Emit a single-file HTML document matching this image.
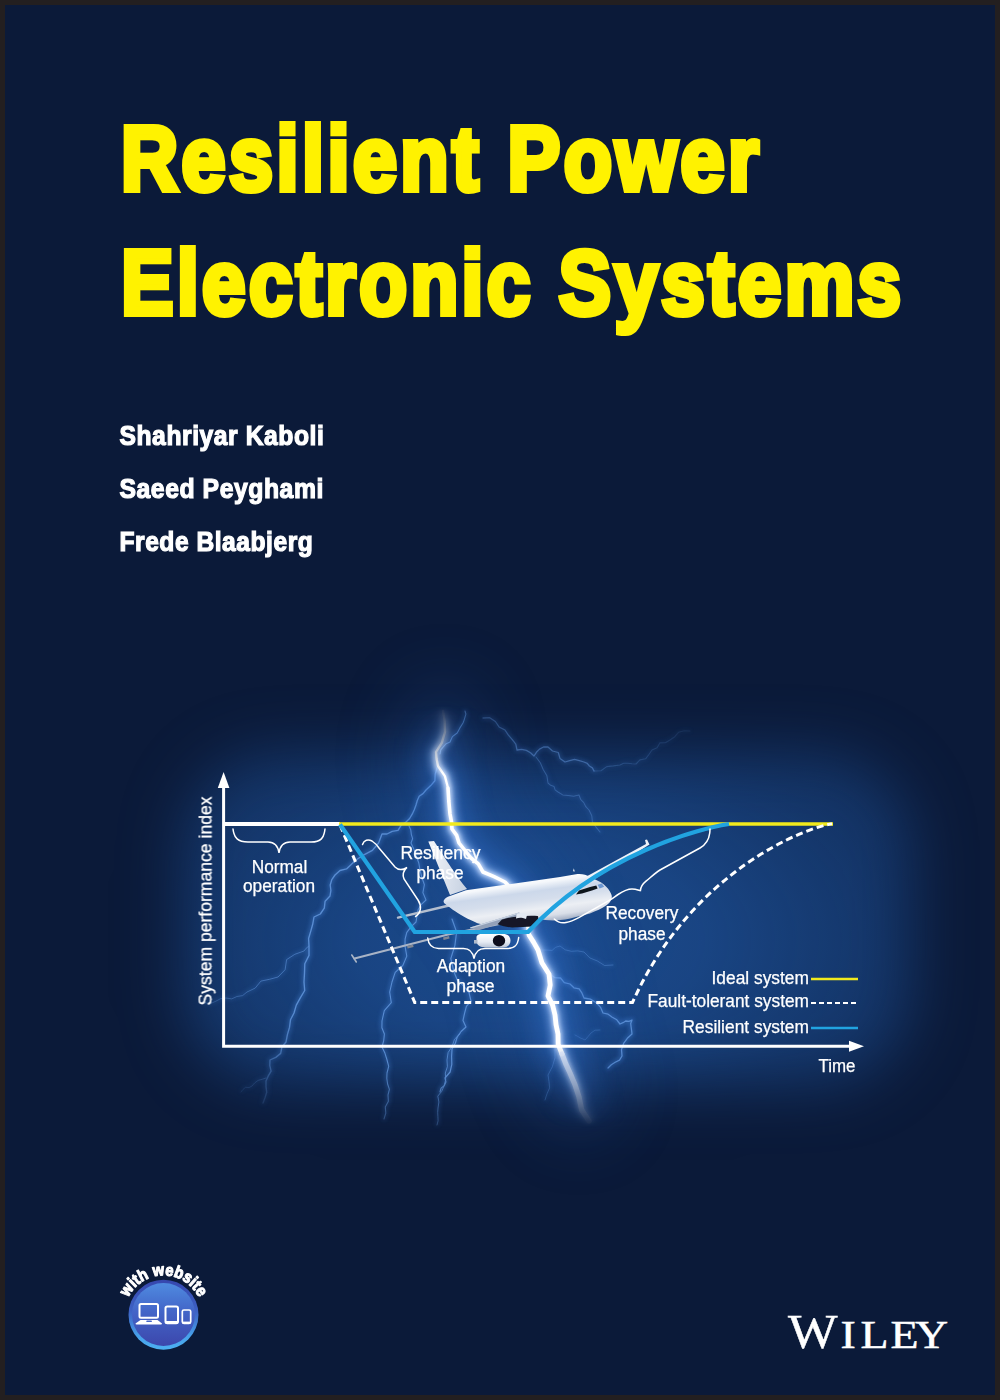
<!DOCTYPE html>
<html><head><meta charset="utf-8">
<title>Resilient Power Electronic Systems</title>
<style>
html,body{margin:0;padding:0;}
body{width:1000px;height:1400px;overflow:hidden;background:#231f20;position:relative;font-family:"Liberation Sans",sans-serif;}
#cover{position:absolute;left:5px;top:5px;width:990px;height:1390px;background:#0b1a39;}
svg{position:absolute;left:0;top:0;}
.t{font-family:"Liberation Sans",sans-serif;font-weight:bold;}
.l{font-family:"Liberation Sans",sans-serif;fill:#fff;font-size:17.5px;}
.s{font-family:"Liberation Serif",serif;fill:#fff;}
</style></head>
<body>
<div id="cover"></div>
<svg id="art" width="1000" height="1400" viewBox="0 0 1000 1400">
<defs>
<radialGradient id="glow" cx="0.5" cy="0.5" r="0.5">
<stop offset="0" stop-color="#2262b4" stop-opacity="1"/>
<stop offset="0.3" stop-color="#1f5aa8" stop-opacity="0.9"/>
<stop offset="0.6" stop-color="#1c4f97" stop-opacity="0.55"/>
<stop offset="0.85" stop-color="#1a488a" stop-opacity="0.15"/>
<stop offset="1" stop-color="#1a488a" stop-opacity="0"/>
</radialGradient>
<filter id="b2" x="-50%" y="-50%" width="200%" height="200%"><feGaussianBlur stdDeviation="2"/></filter>
<filter id="b4" x="-50%" y="-50%" width="200%" height="200%"><feGaussianBlur stdDeviation="4"/></filter>
<filter id="b8" x="-50%" y="-50%" width="200%" height="200%"><feGaussianBlur stdDeviation="9"/></filter>
<filter id="b1" x="-50%" y="-50%" width="200%" height="200%"><feGaussianBlur stdDeviation="0.7"/></filter>
<filter id="b50" x="-60%" y="-80%" width="220%" height="260%"><feGaussianBlur stdDeviation="75 52"/></filter>
<filter id="b03" x="-10%" y="-10%" width="120%" height="120%"><feGaussianBlur stdDeviation="0.35"/></filter>
<filter id="b05" x="-50%" y="-50%" width="200%" height="200%"><feGaussianBlur stdDeviation="0.55"/></filter>
<filter id="b14" x="-100%" y="-50%" width="300%" height="200%"><feGaussianBlur stdDeviation="14"/></filter>
<radialGradient id="glow2" gradientUnits="userSpaceOnUse" cx="0" cy="0" r="1" gradientTransform="translate(530,940) scale(480,275)">
<stop offset="0" stop-color="#1b4a8c" stop-opacity="1.0"/>
<stop offset="0.15" stop-color="#1b4a8c" stop-opacity="0.95"/>
<stop offset="0.35" stop-color="#1b4a8c" stop-opacity="0.9"/>
<stop offset="0.56" stop-color="#1b4a8c" stop-opacity="0.73"/>
<stop offset="0.67" stop-color="#1b4a8c" stop-opacity="0.64"/>
<stop offset="0.77" stop-color="#1b4a8c" stop-opacity="0.57"/>
<stop offset="1" stop-color="#1b4a8c" stop-opacity="0.45"/>
</radialGradient>
<filter id="b30" filterUnits="userSpaceOnUse" x="0" y="560" width="1000" height="720"><feGaussianBlur stdDeviation="30"/></filter>
<mask id="gm" maskUnits="userSpaceOnUse" x="0" y="560" width="1000" height="720"><rect x="180" y="750" width="735" height="338" rx="95" fill="#fff" filter="url(#b30)"/></mask>
<filter id="b35" filterUnits="userSpaceOnUse" x="200" y="560" width="640" height="720"><feGaussianBlur stdDeviation="34"/></filter>
</defs>
<!-- GLOW -->
<rect x="20" y="600" width="960" height="640" fill="url(#glow2)" mask="url(#gm)"/>
<!-- LIGHTNING -->
<defs>
<linearGradient id="bfade" gradientUnits="userSpaceOnUse" x1="0" y1="705" x2="0" y2="1128">
<stop offset="0" stop-color="#fff" stop-opacity="0"/><stop offset="0.07" stop-color="#fff" stop-opacity="0.45"/><stop offset="0.16" stop-color="#fff" stop-opacity="1"/><stop offset="0.8" stop-color="#fff" stop-opacity="1"/><stop offset="0.9" stop-color="#fff" stop-opacity="0.6"/><stop offset="1" stop-color="#fff" stop-opacity="0"/>
</linearGradient>
<mask id="bmask" maskUnits="userSpaceOnUse" x="0" y="600" width="1000" height="700"><rect x="0" y="600" width="1000" height="700" fill="url(#bfade)"/></mask>
<radialGradient id="bmaskr" gradientUnits="userSpaceOnUse" cx="500" cy="915" r="330" gradientTransform="translate(500,915) scale(1.25,0.8) translate(-500,-915)"><stop offset="0.62" stop-color="#fff" stop-opacity="1"/><stop offset="1" stop-color="#fff" stop-opacity="0"/></radialGradient>
<mask id="brmask" maskUnits="userSpaceOnUse" x="0" y="600" width="1000" height="700"><rect x="0" y="600" width="1000" height="700" fill="url(#bmaskr)"/></mask>
</defs>
<g fill="none" stroke-linecap="round" stroke-linejoin="round">
<g mask="url(#brmask)">
<g stroke="#4f8fe6" opacity="0.35" filter="url(#b2)">
<path d="M437.0,768.0 L435.2,774.2 L434.9,780.7 L430.7,785.6 L426.0,790.0 L423.0,793.6 L419.2,796.3 L417.3,800.5 L416.0,805.0 L414.3,809.7 L412.2,814.2 L409.6,818.5 L406.0,822.0 L401.1,825.3 L398.0,830.3 L392.2,831.4 L387.0,834.0 L382.0,834.0 L378.6,843.0 L372.4,850.4 L363.9,854.8 L356.0,860.0 L351.2,864.4 L346.5,868.9 L340.0,870.5 L335.0,875.0 L331.8,879.6 L330.2,885.0 L330.9,890.5 L330.0,896.0 L325.1,901.2 L324.3,908.2 L320.3,914.0 L314.0,917.0 L312.7,924.3 L310.7,931.4 L308.6,938.5 L309.0,946.0 L309.0,955.4 L304.8,963.8 L304.5,972.9 L304.0,982.0 L304.7,990.5 L300.3,997.9 L296.3,1005.1 L294.0,1013.0 L290.5,1019.8 L289.5,1027.4 L287.4,1034.6 L286.0,1042.0 L281.9,1047.0 L280.7,1053.4 L275.8,1057.4 L270.0,1060.0 L269.8,1065.6 L271.1,1071.1 L268.3,1075.9 L266.0,1081.0 L266.0,1086.7 L266.7,1092.3 L265.0,1097.7 L263.0,1103.0" stroke-width="4.8" opacity="1"/>
<path d="M266.0,1078.0 L262.1,1079.3 L258.1,1080.4 L254.7,1082.9 L252.0,1086.0 L249.0,1087.6 L245.6,1087.3 L243.0,1089.4 L241.0,1092.0" stroke-width="2.7" opacity="1"/>
<path d="M309.0,946.0 L306.2,948.2 L304.0,951.0 L294.8,954.3 L286.6,959.6 L285.1,969.7 L278.0,977.0 L269.5,979.3 L260.9,981.1 L255.2,988.1 L247.0,992.0 L242.6,995.6 L236.9,996.5 L231.7,998.9 L226.0,998.0 L220.5,998.7 L215.7,1001.3 L210.6,1003.5 L205.0,1003.0" stroke-width="3.3" opacity="0.7"/>
<path d="M465.0,711.0 L465.9,714.1 L465.0,717.2 L464.1,720.1 L463.0,723.0 L459.9,727.9 L457.2,733.0 L452.4,736.6 L450.0,742.0 L446.2,743.7 L443.5,746.7 L440.8,749.9 L440.0,754.0" stroke-width="3.9" opacity="1"/>
<path d="M409.0,826.0 L410.8,830.0 L411.3,834.3 L412.6,838.7 L411.0,843.0 L414.0,849.5 L416.3,856.2 L418.8,863.0 L420.0,870.0 L421.9,877.5 L424.4,884.7 L422.9,892.6 L426.0,900.0 L421.4,904.3 L418.1,909.7 L417.0,915.8 L416.0,922.0 L411.0,926.8 L406.8,932.3 L405.1,939.0 L405.0,946.0 L406.8,956.1 L402.8,965.5 L395.2,972.3 L392.0,982.0 L389.7,992.2 L391.3,1002.6 L384.3,1010.6 L382.0,1021.0 L381.9,1027.7 L384.4,1034.0 L383.7,1040.6 L382.0,1047.0 L384.9,1053.1 L386.9,1059.5 L388.7,1066.3 L387.0,1073.0 L386.8,1078.5 L387.6,1084.0 L389.4,1089.4 L388.0,1095.0 L388.4,1101.3 L385.3,1106.9 L385.8,1113.1 L384.0,1119.0" stroke-width="3.9" opacity="1"/>
<path d="M483.0,718.0 L489.7,717.7 L495.4,721.5 L499.1,727.0 L505.0,730.0 L508.2,734.9 L512.1,739.3 L515.8,744.1 L517.0,750.0 L521.7,749.4 L526.4,750.4 L530.5,752.8 L534.0,756.0 L536.4,752.3 L539.5,749.1 L543.5,747.0 L548.0,747.0 L552.5,751.0 L558.3,752.5 L560.0,758.4 L565.0,762.0 L569.7,760.6 L574.5,759.4 L579.3,760.7 L584.0,762.0 L587.3,763.3 L589.4,766.0 L592.4,767.9 L594.0,771.0" stroke-width="4.5" opacity="0.6"/>
<path d="M594.0,771.0 L601.0,770.7 L606.7,766.6 L613.4,765.9 L620.0,765.0 L623.7,763.2 L627.9,763.2 L631.9,763.7 L636.0,764.0 L639.9,759.9 L645.6,758.8 L648.9,754.5 L652.0,750.0 L657.1,747.7 L659.8,742.9 L665.3,742.7 L670.0,740.0 L674.8,736.7 L678.5,732.3 L684.2,730.7 L690.0,731.0" stroke-width="3.9" opacity="0.32"/>
<path d="M536.0,757.0 L540.3,762.8 L543.2,769.5 L546.9,775.8 L548.0,783.0 L550.7,785.3 L554.0,786.4 L555.1,789.8 L558.0,792.0 L562.7,794.9 L568.2,795.4 L573.7,796.3 L579.0,795.0 L580.6,799.3 L583.8,802.6 L585.8,806.7 L589.0,810.0 L591.8,815.7 L592.4,822.0 L596.1,827.1 L600.0,832.0" stroke-width="3.6" opacity="0.45"/>
<path d="M550.0,974.0 L554.6,977.6 L560.5,978.0 L564.3,982.6 L570.0,984.0 L573.9,987.8 L579.2,988.8 L582.0,993.2 L584.0,998.0 L590.4,999.1 L595.9,1002.5 L600.4,1007.1 L603.0,1013.0 L608.1,1014.2 L612.3,1017.2 L616.8,1019.8 L620.0,1024.0 L623.0,1022.7 L625.7,1021.0 L629.0,1021.4 L632.0,1020.0 L630.7,1023.4 L631.1,1027.0 L631.6,1030.5 L632.0,1034.0 L627.3,1038.3 L623.6,1043.4 L621.5,1049.6 L622.0,1056.0 L619.5,1060.1 L615.2,1062.3 L611.3,1064.7 L608.0,1068.0" stroke-width="4.5" opacity="1"/>
<path d="M543.0,950.0 L547.5,950.1 L552.1,950.4 L555.6,947.3 L560.0,946.0 L565.2,949.8 L571.4,951.3 L577.8,950.9 L584.0,952.0 L589.8,957.9 L597.4,961.0 L604.6,965.5 L613.0,965.0" stroke-width="3.0" opacity="0.6"/>
<path d="M452.0,919.0 L456.6,931.9 L454.9,945.4 L450.8,958.6 L454.0,972.0 L457.3,980.0 L463.5,985.9 L469.0,992.6 L471.0,1001.0 L466.4,1006.4 L464.6,1013.2 L463.0,1020.4 L466.0,1027.0 L461.1,1031.5 L457.3,1036.9 L455.3,1043.2 L452.0,1049.0 L451.6,1056.6 L451.8,1064.3 L450.1,1072.0 L445.0,1078.0 L445.9,1081.9 L444.3,1085.6 L441.1,1088.1 L440.0,1092.0" stroke-width="4.2" opacity="1"/>
<path d="M460.0,1034.0 L454.5,1039.2 L452.2,1046.3 L448.1,1052.6 L447.0,1060.0 L447.4,1066.7 L445.3,1073.0 L445.7,1079.6 L444.0,1086.0 L441.6,1091.5 L437.8,1096.1 L438.9,1102.0 L438.0,1108.0 L437.7,1112.3 L437.9,1116.5 L438.1,1120.8 L437.0,1125.0" stroke-width="3.0" opacity="1"/>
<path d="M560.0,1040.0 L555.0,1048.2 L555.0,1057.8 L552.3,1066.8 L548.0,1075.0 L549.0,1081.4 L549.6,1087.9 L547.0,1093.8 L545.0,1100.0" stroke-width="2.7" opacity="0.6"/>
<path d="M600.0,1030.0 L595.1,1030.2 L591.1,1032.9 L588.1,1036.5 L585.0,1040.0 L582.5,1038.8 L579.9,1037.8 L577.5,1036.3 L575.0,1035.0" stroke-width="2.7" opacity="0.5"/>
</g>
<g stroke="#6fa4ea" opacity="0.72" filter="url(#b05)">
<path d="M437.0,768.0 L435.2,774.2 L434.9,780.7 L430.7,785.6 L426.0,790.0 L423.0,793.6 L419.2,796.3 L417.3,800.5 L416.0,805.0 L414.3,809.7 L412.2,814.2 L409.6,818.5 L406.0,822.0 L401.1,825.3 L398.0,830.3 L392.2,831.4 L387.0,834.0 L382.0,834.0 L378.6,843.0 L372.4,850.4 L363.9,854.8 L356.0,860.0 L351.2,864.4 L346.5,868.9 L340.0,870.5 L335.0,875.0 L331.8,879.6 L330.2,885.0 L330.9,890.5 L330.0,896.0 L325.1,901.2 L324.3,908.2 L320.3,914.0 L314.0,917.0 L312.7,924.3 L310.7,931.4 L308.6,938.5 L309.0,946.0 L309.0,955.4 L304.8,963.8 L304.5,972.9 L304.0,982.0 L304.7,990.5 L300.3,997.9 L296.3,1005.1 L294.0,1013.0 L290.5,1019.8 L289.5,1027.4 L287.4,1034.6 L286.0,1042.0 L281.9,1047.0 L280.7,1053.4 L275.8,1057.4 L270.0,1060.0 L269.8,1065.6 L271.1,1071.1 L268.3,1075.9 L266.0,1081.0 L266.0,1086.7 L266.7,1092.3 L265.0,1097.7 L263.0,1103.0" stroke-width="1.36" opacity="1"/>
<path d="M266.0,1078.0 L262.1,1079.3 L258.1,1080.4 L254.7,1082.9 L252.0,1086.0 L249.0,1087.6 L245.6,1087.3 L243.0,1089.4 L241.0,1092.0" stroke-width="0.77" opacity="1"/>
<path d="M309.0,946.0 L306.2,948.2 L304.0,951.0 L294.8,954.3 L286.6,959.6 L285.1,969.7 L278.0,977.0 L269.5,979.3 L260.9,981.1 L255.2,988.1 L247.0,992.0 L242.6,995.6 L236.9,996.5 L231.7,998.9 L226.0,998.0 L220.5,998.7 L215.7,1001.3 L210.6,1003.5 L205.0,1003.0" stroke-width="0.94" opacity="0.7"/>
<path d="M465.0,711.0 L465.9,714.1 L465.0,717.2 L464.1,720.1 L463.0,723.0 L459.9,727.9 L457.2,733.0 L452.4,736.6 L450.0,742.0 L446.2,743.7 L443.5,746.7 L440.8,749.9 L440.0,754.0" stroke-width="1.10" opacity="1"/>
<path d="M409.0,826.0 L410.8,830.0 L411.3,834.3 L412.6,838.7 L411.0,843.0 L414.0,849.5 L416.3,856.2 L418.8,863.0 L420.0,870.0 L421.9,877.5 L424.4,884.7 L422.9,892.6 L426.0,900.0 L421.4,904.3 L418.1,909.7 L417.0,915.8 L416.0,922.0 L411.0,926.8 L406.8,932.3 L405.1,939.0 L405.0,946.0 L406.8,956.1 L402.8,965.5 L395.2,972.3 L392.0,982.0 L389.7,992.2 L391.3,1002.6 L384.3,1010.6 L382.0,1021.0 L381.9,1027.7 L384.4,1034.0 L383.7,1040.6 L382.0,1047.0 L384.9,1053.1 L386.9,1059.5 L388.7,1066.3 L387.0,1073.0 L386.8,1078.5 L387.6,1084.0 L389.4,1089.4 L388.0,1095.0 L388.4,1101.3 L385.3,1106.9 L385.8,1113.1 L384.0,1119.0" stroke-width="1.10" opacity="1"/>
<path d="M483.0,718.0 L489.7,717.7 L495.4,721.5 L499.1,727.0 L505.0,730.0 L508.2,734.9 L512.1,739.3 L515.8,744.1 L517.0,750.0 L521.7,749.4 L526.4,750.4 L530.5,752.8 L534.0,756.0 L536.4,752.3 L539.5,749.1 L543.5,747.0 L548.0,747.0 L552.5,751.0 L558.3,752.5 L560.0,758.4 L565.0,762.0 L569.7,760.6 L574.5,759.4 L579.3,760.7 L584.0,762.0 L587.3,763.3 L589.4,766.0 L592.4,767.9 L594.0,771.0" stroke-width="1.27" opacity="0.6"/>
<path d="M594.0,771.0 L601.0,770.7 L606.7,766.6 L613.4,765.9 L620.0,765.0 L623.7,763.2 L627.9,763.2 L631.9,763.7 L636.0,764.0 L639.9,759.9 L645.6,758.8 L648.9,754.5 L652.0,750.0 L657.1,747.7 L659.8,742.9 L665.3,742.7 L670.0,740.0 L674.8,736.7 L678.5,732.3 L684.2,730.7 L690.0,731.0" stroke-width="1.10" opacity="0.32"/>
<path d="M536.0,757.0 L540.3,762.8 L543.2,769.5 L546.9,775.8 L548.0,783.0 L550.7,785.3 L554.0,786.4 L555.1,789.8 L558.0,792.0 L562.7,794.9 L568.2,795.4 L573.7,796.3 L579.0,795.0 L580.6,799.3 L583.8,802.6 L585.8,806.7 L589.0,810.0 L591.8,815.7 L592.4,822.0 L596.1,827.1 L600.0,832.0" stroke-width="1.02" opacity="0.45"/>
<path d="M550.0,974.0 L554.6,977.6 L560.5,978.0 L564.3,982.6 L570.0,984.0 L573.9,987.8 L579.2,988.8 L582.0,993.2 L584.0,998.0 L590.4,999.1 L595.9,1002.5 L600.4,1007.1 L603.0,1013.0 L608.1,1014.2 L612.3,1017.2 L616.8,1019.8 L620.0,1024.0 L623.0,1022.7 L625.7,1021.0 L629.0,1021.4 L632.0,1020.0 L630.7,1023.4 L631.1,1027.0 L631.6,1030.5 L632.0,1034.0 L627.3,1038.3 L623.6,1043.4 L621.5,1049.6 L622.0,1056.0 L619.5,1060.1 L615.2,1062.3 L611.3,1064.7 L608.0,1068.0" stroke-width="1.27" opacity="1"/>
<path d="M543.0,950.0 L547.5,950.1 L552.1,950.4 L555.6,947.3 L560.0,946.0 L565.2,949.8 L571.4,951.3 L577.8,950.9 L584.0,952.0 L589.8,957.9 L597.4,961.0 L604.6,965.5 L613.0,965.0" stroke-width="0.85" opacity="0.6"/>
<path d="M452.0,919.0 L456.6,931.9 L454.9,945.4 L450.8,958.6 L454.0,972.0 L457.3,980.0 L463.5,985.9 L469.0,992.6 L471.0,1001.0 L466.4,1006.4 L464.6,1013.2 L463.0,1020.4 L466.0,1027.0 L461.1,1031.5 L457.3,1036.9 L455.3,1043.2 L452.0,1049.0 L451.6,1056.6 L451.8,1064.3 L450.1,1072.0 L445.0,1078.0 L445.9,1081.9 L444.3,1085.6 L441.1,1088.1 L440.0,1092.0" stroke-width="1.19" opacity="1"/>
<path d="M460.0,1034.0 L454.5,1039.2 L452.2,1046.3 L448.1,1052.6 L447.0,1060.0 L447.4,1066.7 L445.3,1073.0 L445.7,1079.6 L444.0,1086.0 L441.6,1091.5 L437.8,1096.1 L438.9,1102.0 L438.0,1108.0 L437.7,1112.3 L437.9,1116.5 L438.1,1120.8 L437.0,1125.0" stroke-width="0.85" opacity="1"/>
<path d="M560.0,1040.0 L555.0,1048.2 L555.0,1057.8 L552.3,1066.8 L548.0,1075.0 L549.0,1081.4 L549.6,1087.9 L547.0,1093.8 L545.0,1100.0" stroke-width="0.77" opacity="0.6"/>
<path d="M600.0,1030.0 L595.1,1030.2 L591.1,1032.9 L588.1,1036.5 L585.0,1040.0 L582.5,1038.8 L579.9,1037.8 L577.5,1036.3 L575.0,1035.0" stroke-width="0.77" opacity="0.5"/>
</g></g>
<path d="M444.7,721.4 L445.0,732.0 L441.9,742.6 L436.0,752.0 L436.6,759.1 L438.0,766.0 L444.9,776.1 L448.0,788.0 L448.8,801.0 L450.0,814.0 L451.4,821.4 L452.0,829.0 L456.7,835.4 L459.0,843.0 L465.0,850.5 L471.0,858.0 L478.3,863.9 L483.0,872.0 L494.1,876.7 L505.0,882.0 L514.5,892.2 L520.0,905.0 L527.0,919.3 L529.0,935.0 L533.7,942.4 L538.0,950.0 L541.9,962.7 L549.0,974.0 L550.2,985.1 L548.0,996.0 L552.6,1005.1 L555.0,1015.0 L556.0,1024.6 L558.0,1034.0 L558.2,1044.4 L562.0,1054.0 L565.7,1063.6 L570.0,1073.0 L575.0,1084.8 L579.0,1097.0" stroke="#2a62b4" stroke-width="80" opacity="0.22" filter="url(#b35)"/>
<g mask="url(#bmask)">
<path d="M443.0,711.0 L444.7,721.4 L445.0,732.0 L441.9,742.6 L436.0,752.0 L436.6,759.1 L438.0,766.0 L444.9,776.1 L448.0,788.0 L448.8,801.0 L450.0,814.0 L451.4,821.4 L452.0,829.0 L456.7,835.4 L459.0,843.0 L465.0,850.5 L471.0,858.0 L478.3,863.9 L483.0,872.0 L494.1,876.7 L505.0,882.0 L514.5,892.2 L520.0,905.0 L527.0,919.3 L529.0,935.0 L533.7,942.4 L538.0,950.0 L541.9,962.7 L549.0,974.0 L550.2,985.1 L548.0,996.0 L552.6,1005.1 L555.0,1015.0 L556.0,1024.6 L558.0,1034.0 L558.2,1044.4 L562.0,1054.0 L565.7,1063.6 L570.0,1073.0 L575.0,1084.8 L579.0,1097.0 L581.7,1110.0 L589.0,1121.0" stroke="#3f86ee" stroke-width="34" opacity="0.33" filter="url(#b14)"/>
<path d="M443.0,711.0 L444.7,721.4 L445.0,732.0 L441.9,742.6 L436.0,752.0 L436.6,759.1 L438.0,766.0 L444.9,776.1 L448.0,788.0 L448.8,801.0 L450.0,814.0 L451.4,821.4 L452.0,829.0 L456.7,835.4 L459.0,843.0 L465.0,850.5 L471.0,858.0 L478.3,863.9 L483.0,872.0 L494.1,876.7 L505.0,882.0 L514.5,892.2 L520.0,905.0 L527.0,919.3 L529.0,935.0 L533.7,942.4 L538.0,950.0 L541.9,962.7 L549.0,974.0 L550.2,985.1 L548.0,996.0 L552.6,1005.1 L555.0,1015.0 L556.0,1024.6 L558.0,1034.0 L558.2,1044.4 L562.0,1054.0 L565.7,1063.6 L570.0,1073.0 L575.0,1084.8 L579.0,1097.0 L581.7,1110.0 L589.0,1121.0" stroke="#9cc4ff" stroke-width="12" opacity="0.7" filter="url(#b4)"/>
<path d="M443.0,711.0 L444.7,721.4 L445.0,732.0 L441.9,742.6 L436.0,752.0 L436.6,759.1 L438.0,766.0 L444.9,776.1 L448.0,788.0 L448.8,801.0 L450.0,814.0 L451.4,821.4 L452.0,829.0 L456.7,835.4 L459.0,843.0 L465.0,850.5 L471.0,858.0 L478.3,863.9 L483.0,872.0 L494.1,876.7 L505.0,882.0 L514.5,892.2 L520.0,905.0 L527.0,919.3 L529.0,935.0 L533.7,942.4 L538.0,950.0 L541.9,962.7 L549.0,974.0 L550.2,985.1 L548.0,996.0 L552.6,1005.1 L555.0,1015.0 L556.0,1024.6 L558.0,1034.0 L558.2,1044.4 L562.0,1054.0 L565.7,1063.6 L570.0,1073.0 L575.0,1084.8 L579.0,1097.0 L581.7,1110.0 L589.0,1121.0" stroke="#dbe8ff" stroke-width="6" opacity="0.85" filter="url(#b2)"/>
<path d="M443.0,711.0 L444.7,721.4 L445.0,732.0 L441.9,742.6 L436.0,752.0 L436.6,759.1 L438.0,766.0 L444.9,776.1 L448.0,788.0" stroke="#fff" stroke-width="2.3" filter="url(#b05)"/>
<path d="M448.0,788.0 L448.8,801.0 L450.0,814.0 L451.4,821.4 L452.0,829.0 L456.7,835.4 L459.0,843.0 L465.0,850.5 L471.0,858.0 L478.3,863.9 L483.0,872.0 L494.1,876.7 L505.0,882.0 L514.5,892.2 L520.0,905.0 L527.0,919.3 L529.0,935.0" stroke="#fff" stroke-width="3.6" filter="url(#b05)"/>
<path d="M529.0,935.0 L533.7,942.4 L538.0,950.0 L541.9,962.7 L549.0,974.0 L550.2,985.1 L548.0,996.0 L552.6,1005.1 L555.0,1015.0 L556.0,1024.6 L558.0,1034.0 L558.2,1044.4 L562.0,1054.0" stroke="#fff" stroke-width="4.8" filter="url(#b05)"/>
<path d="M562.0,1054.0 L565.7,1063.6 L570.0,1073.0 L575.0,1084.8 L579.0,1097.0 L581.7,1110.0 L589.0,1121.0" stroke="#e9f0ff" stroke-width="5.2" opacity="0.8" filter="url(#b1)"/>
</g>
</g>
<!-- PLANE -->
<defs>
<linearGradient id="fus" gradientUnits="userSpaceOnUse" x1="520" y1="880" x2="526" y2="924">
<stop offset="0" stop-color="#ffffff"/>
<stop offset="0.12" stop-color="#f4f7fb"/>
<stop offset="0.3" stop-color="#ccd8ea"/>
<stop offset="0.5" stop-color="#d5deec"/>
<stop offset="0.7" stop-color="#eceff4"/>
<stop offset="0.88" stop-color="#d9dee8"/>
<stop offset="1" stop-color="#a9b4c8"/>
</linearGradient>
<linearGradient id="fin" x1="0" y1="0" x2="1" y2="0.2">
<stop offset="0" stop-color="#f2f5fa"/>
<stop offset="0.5" stop-color="#dfe5ef"/>
<stop offset="1" stop-color="#cbd5e4"/>
</linearGradient>
<linearGradient id="nac" x1="0" y1="0" x2="0" y2="1">
<stop offset="0" stop-color="#ffffff"/>
<stop offset="0.6" stop-color="#e6ebf3"/>
<stop offset="1" stop-color="#b9c4d6"/>
</linearGradient>
</defs>
<g filter="url(#b03)">
<!-- far (left) wing & stabilizer -->
<path d="M521,919.5 L448,934.5 L354.5,958.5" fill="none" stroke="#a9b4c6" stroke-width="2.2" stroke-linecap="round"/>
<path d="M351.8,955 L356.3,962" fill="none" stroke="#a9b4c6" stroke-width="1.6" stroke-linecap="round"/>
<path d="M407,946 l6,-1.5 l0.6,2.4 l-6,1.5 z M443,937.6 l6,-1.5 l0.6,2.4 l-6,1.5 z" fill="#7d8593"/>
<path d="M449,905.5 L398,917.6" fill="none" stroke="#b4bece" stroke-width="2.4" stroke-linecap="round"/>
<!-- tail fin -->
<path d="M428.3,841.5 L434,841 C445,858 456,876 467,889 L450,895 Z" fill="url(#fin)"/>
<!-- right wing -->
<path d="M572,884 L592,873.5 L646,844 L645,840 L647,839.6 L649.5,844.6 L597,877.5 L582,888 Z" fill="#eef2f8"/>
<path d="M573,871.2 l0.8,-3 l1,3.2 z" fill="#e6ebf3"/>
<!-- engine -->
<path d="M476.5,937 C477,934 481,933.6 486,933.8 H503 C508,934 510.5,937 510.5,940.5 C510.500,944.5 508,947.4 503,947.4 H486 C480,947.4 476.5,945 476.5,941 Z" fill="url(#nac)"/>
<path d="M474,940 h3.5 v3.6 h-3.5 z" fill="#aeb9ca"/>
<ellipse cx="499" cy="940.7" rx="6.2" ry="5.8" fill="#0b101c"/>
<!-- wing underside / gear dark -->
<!-- fuselage -->
<path d="M443.5,901 C445,898 447,897 450,896 L466,890.3 L560,877 L576,874.2 C582,873.6 586,874.6 590,877 C595,879.6 598,880.6 601.2,882.6 C605,885.5 608,888 609.6,891 C611.4,894 612.2,896 611.7,898 C611,901 609.5,903 606.8,905 C602,908.6 596,911 590,913.4 L576,917 C568,919.4 562,920.2 555,920.4 C548,920.6 544,919.6 538.2,919 C520,919.6 500,924 486,924.4 C480,924.4 478,923.6 476,922.5 C470,920 465,917.6 460.6,914.8 C453,910 447,905.6 444,903 Z" fill="url(#fus)"/>
<!-- near wing strip over fuselage -->
<path d="M470,927.5 L519,912.6 L523,916.4 L478,930.4 Z" fill="#93a1b9"/>
<path d="M470,927.5 L519,912.6 L519.6,913.6 L470.6,928.6 Z" fill="#c9d3e2"/>
<!-- dark pylon region drawn above fuselage bottom -->
<path d="M502,919.6 C511,916.6 528,915 537.8,916 C539.4,919 537,923.6 532.5,926.6 L512,927.4 C506,926.8 501,925.6 497.5,924.2 Z" fill="#131826"/>
<path d="M516.5,914.4 C520,912.4 525,912.6 527,915 L526,919 C522,917.4 519,917.6 516,918.4 Z" fill="#e3e9f2"/>
<!-- cockpit windows -->
<path d="M576,894.6 L579,890.6 L590,887 L596.3,885.6 L597.6,888.6 L592,890.4 L582,893.6 Z" fill="#10151f"/>
<path d="M597.6,884.8 l4.200,-1.400 l2.400,3.400 l-4.600,1.600 z" fill="#6c98d2"/>
</g>
<!-- CHART -->
<g fill="none">
<path d="M223.6,786 V1046.3 H852" stroke="#fff" stroke-width="3"/>
<path d="M223.6,772 L229.4,788 H217.8 Z" fill="#fff"/>
<path d="M864,1046.3 L849,1040.8 V1051.8 Z" fill="#fff"/>
<path d="M224,824 H340" stroke="#fff" stroke-width="4"/>
<path d="M339,824 H833" stroke="#f2ea1c" stroke-width="3.6"/>
<path d="M340,825 L414.7,1002.4 H632.5 C692.9,868.6 807.4,827.3 832,823.8" stroke="#fff" stroke-width="3" stroke-dasharray="7 4"/>
<path d="M340,824.5 L414.7,932 H528 C601,853.5 700,828.5 729,824" stroke="#21a3e0" stroke-width="4.2" stroke-linejoin="miter"/>
<!-- legend lines -->
<path d="M811,979 H858" stroke="#f2ea1c" stroke-width="2.6"/>
<path d="M811,1003 H858" stroke="#fff" stroke-width="2.2" stroke-dasharray="5 3"/>
<path d="M811,1028 H858" stroke="#21a3e0" stroke-width="2.6"/>
<!-- braces -->
<g stroke="#fff" stroke-width="1.5" stroke-linecap="round">
<path d="M233,829 C234,838 238,842 248,842 H268 C275,842 278,846 279,853 C280,846 283,842 290,842 H311 C321,842 324,838 325,829"/>
<path d="M362.5,844.5 C364,840 368,839 372,841 C375,843 377,845 379,848 L395,867 C399,871 403,870 407,867.5 C403,871 402,874 404,879 L418,900 C422,906 421,913 415.6,916.5"/>
<path d="M427.700,938 C428.5,945 431.5,948.4 438.5,948.4 H463.5 C469.5,948.4 472.8,952 474,958.5 C475.2,952 478,948.4 485,948.4 H508 C515,948.4 517.8,945 518.700,937.5"/>
<path d="M554.3,919 C558,922.6 563,923.200 566,922.5 C571,921.600 575,919.6 578.8,917.6 L611,899.4 C613.6,897.8 615.6,896 618,894.5 C623,891.2 628,889 632,889 C636,889 638.6,890.2 640.4,890.6 C640.6,887.6 642.6,884 646,881.2 C650,878 655,873 660,870 L700,848 C707,844 710,838 710,829"/>
</g>
</g>
<!-- LABELS -->
<g class="l" filter="url(#b03)" stroke="#fff" stroke-width="0.25">
<text x="279.5" y="872.5" text-anchor="middle" textLength="55.5" lengthAdjust="spacingAndGlyphs">Normal</text>
<text x="279" y="892" text-anchor="middle" textLength="72" lengthAdjust="spacingAndGlyphs">operation</text>
<text x="440.5" y="858.6" text-anchor="middle" textLength="80" lengthAdjust="spacingAndGlyphs">Resiliency</text>
<text x="440" y="879" text-anchor="middle" textLength="47" lengthAdjust="spacingAndGlyphs">phase</text>
<text x="471" y="972" text-anchor="middle" textLength="68.5" lengthAdjust="spacingAndGlyphs">Adaption</text>
<text x="470.5" y="991.7" text-anchor="middle" textLength="48" lengthAdjust="spacingAndGlyphs">phase</text>
<text x="642" y="918.7" text-anchor="middle" textLength="73" lengthAdjust="spacingAndGlyphs">Recovery</text>
<text x="642" y="939.6" text-anchor="middle" textLength="47" lengthAdjust="spacingAndGlyphs">phase</text>
<text x="809" y="984.2" text-anchor="end" textLength="97.5" lengthAdjust="spacingAndGlyphs">Ideal system</text>
<text x="809" y="1007.3" text-anchor="end" textLength="161.5" lengthAdjust="spacingAndGlyphs">Fault-tolerant system</text>
<text x="809" y="1032.6" text-anchor="end" textLength="126.5" lengthAdjust="spacingAndGlyphs">Resilient system</text>
<text x="837" y="1071.5" text-anchor="middle" textLength="37" lengthAdjust="spacingAndGlyphs">Time</text>
<text transform="translate(211.5,901) rotate(-90)" text-anchor="middle" textLength="209" lengthAdjust="spacingAndGlyphs">System performance index</text>
</g>
<!-- TITLE -->
<g class="t" filter="url(#b03)" fill="#fff200" stroke="#fff200" stroke-width="6" stroke-linejoin="miter" stroke-miterlimit="3" font-size="91.5" letter-spacing="4">
<text transform="translate(121,190.3) scale(0.865,1)">Resilient Power</text>
<text transform="translate(121.3,314) scale(0.855,1)">Electronic Systems</text>
</g>
<!-- AUTHORS -->
<g class="t" filter="url(#b03)" fill="#ffffff" stroke="#ffffff" stroke-width="1.2" font-size="27" letter-spacing="0.6">
<text transform="translate(119.5,445) scale(0.914,1)">Shahriyar Kaboli</text>
<text transform="translate(119.5,497.6) scale(0.917,1)">Saeed Peyghami</text>
<text transform="translate(119.5,551) scale(0.91,1)">Frede Blaabjerg</text>
</g>
<!-- BADGE -->
<defs>
<linearGradient id="rim" x1="0" y1="0" x2="0" y2="1">
<stop offset="0" stop-color="#3646ae"/>
<stop offset="0.45" stop-color="#3d62c4"/>
<stop offset="0.8" stop-color="#47a0ea"/>
<stop offset="1" stop-color="#4db0f2"/>
</linearGradient>
<linearGradient id="disc" x1="0" y1="0" x2="0" y2="1">
<stop offset="0" stop-color="#4f8be0"/>
<stop offset="0.45" stop-color="#4365c8"/>
<stop offset="1" stop-color="#3c47ac"/>
</linearGradient>
<path id="arc" d="M124.80,1307.88 A39.3,39.3 0 0 1 202.20,1307.88"/>
</defs>
<circle cx="163.5" cy="1314.7" r="35" fill="url(#rim)"/>
<circle cx="163.5" cy="1314.5" r="31.5" fill="url(#disc)"/>
<g fill="none" stroke="#fff" stroke-width="2" stroke-linejoin="round">
<rect x="139.5" y="1304" width="18.5" height="13.8" rx="1.5"/>
<rect x="165.5" y="1306.5" width="12.5" height="16.8" rx="1.8"/>
<rect x="182.3" y="1310" width="8.4" height="13.3" rx="1.6" stroke-width="1.7"/>
</g>
<path d="M140.5,1320 H157.5 L162,1323.6 Q162,1324.6 161,1324.6 H136.5 Q135.5,1324.6 135.5,1323.6 Z" fill="#fff"/>
<rect x="146.3" y="1320.6" width="5.6" height="1.5" rx="0.7" fill="#4365c8"/>
<rect x="165.5" y="1321" width="12.5" height="2.6" fill="#fff"/>
<rect x="182.3" y="1321.6" width="8.4" height="2" fill="#fff"/>
<text class="t" fill="#fff" stroke="#fff" stroke-width="1.1" stroke-linejoin="round" font-size="16.6" filter="url(#b03)" textLength="88" lengthAdjust="spacingAndGlyphs"><textPath href="#arc" startOffset="50%" text-anchor="middle" textLength="88" lengthAdjust="spacingAndGlyphs">with website</textPath></text>
<!-- WILEY -->
<text class="s" transform="translate(788,1348) scale(1.13,1)" stroke="#fff" stroke-width="0.5"><tspan x="0" font-size="49.5" textLength="43.8" lengthAdjust="spacingAndGlyphs">W</tspan><tspan x="46.4 64.2 90.8 112.3" font-size="40.6">ILEY</tspan></text>
</svg>
</body></html>
